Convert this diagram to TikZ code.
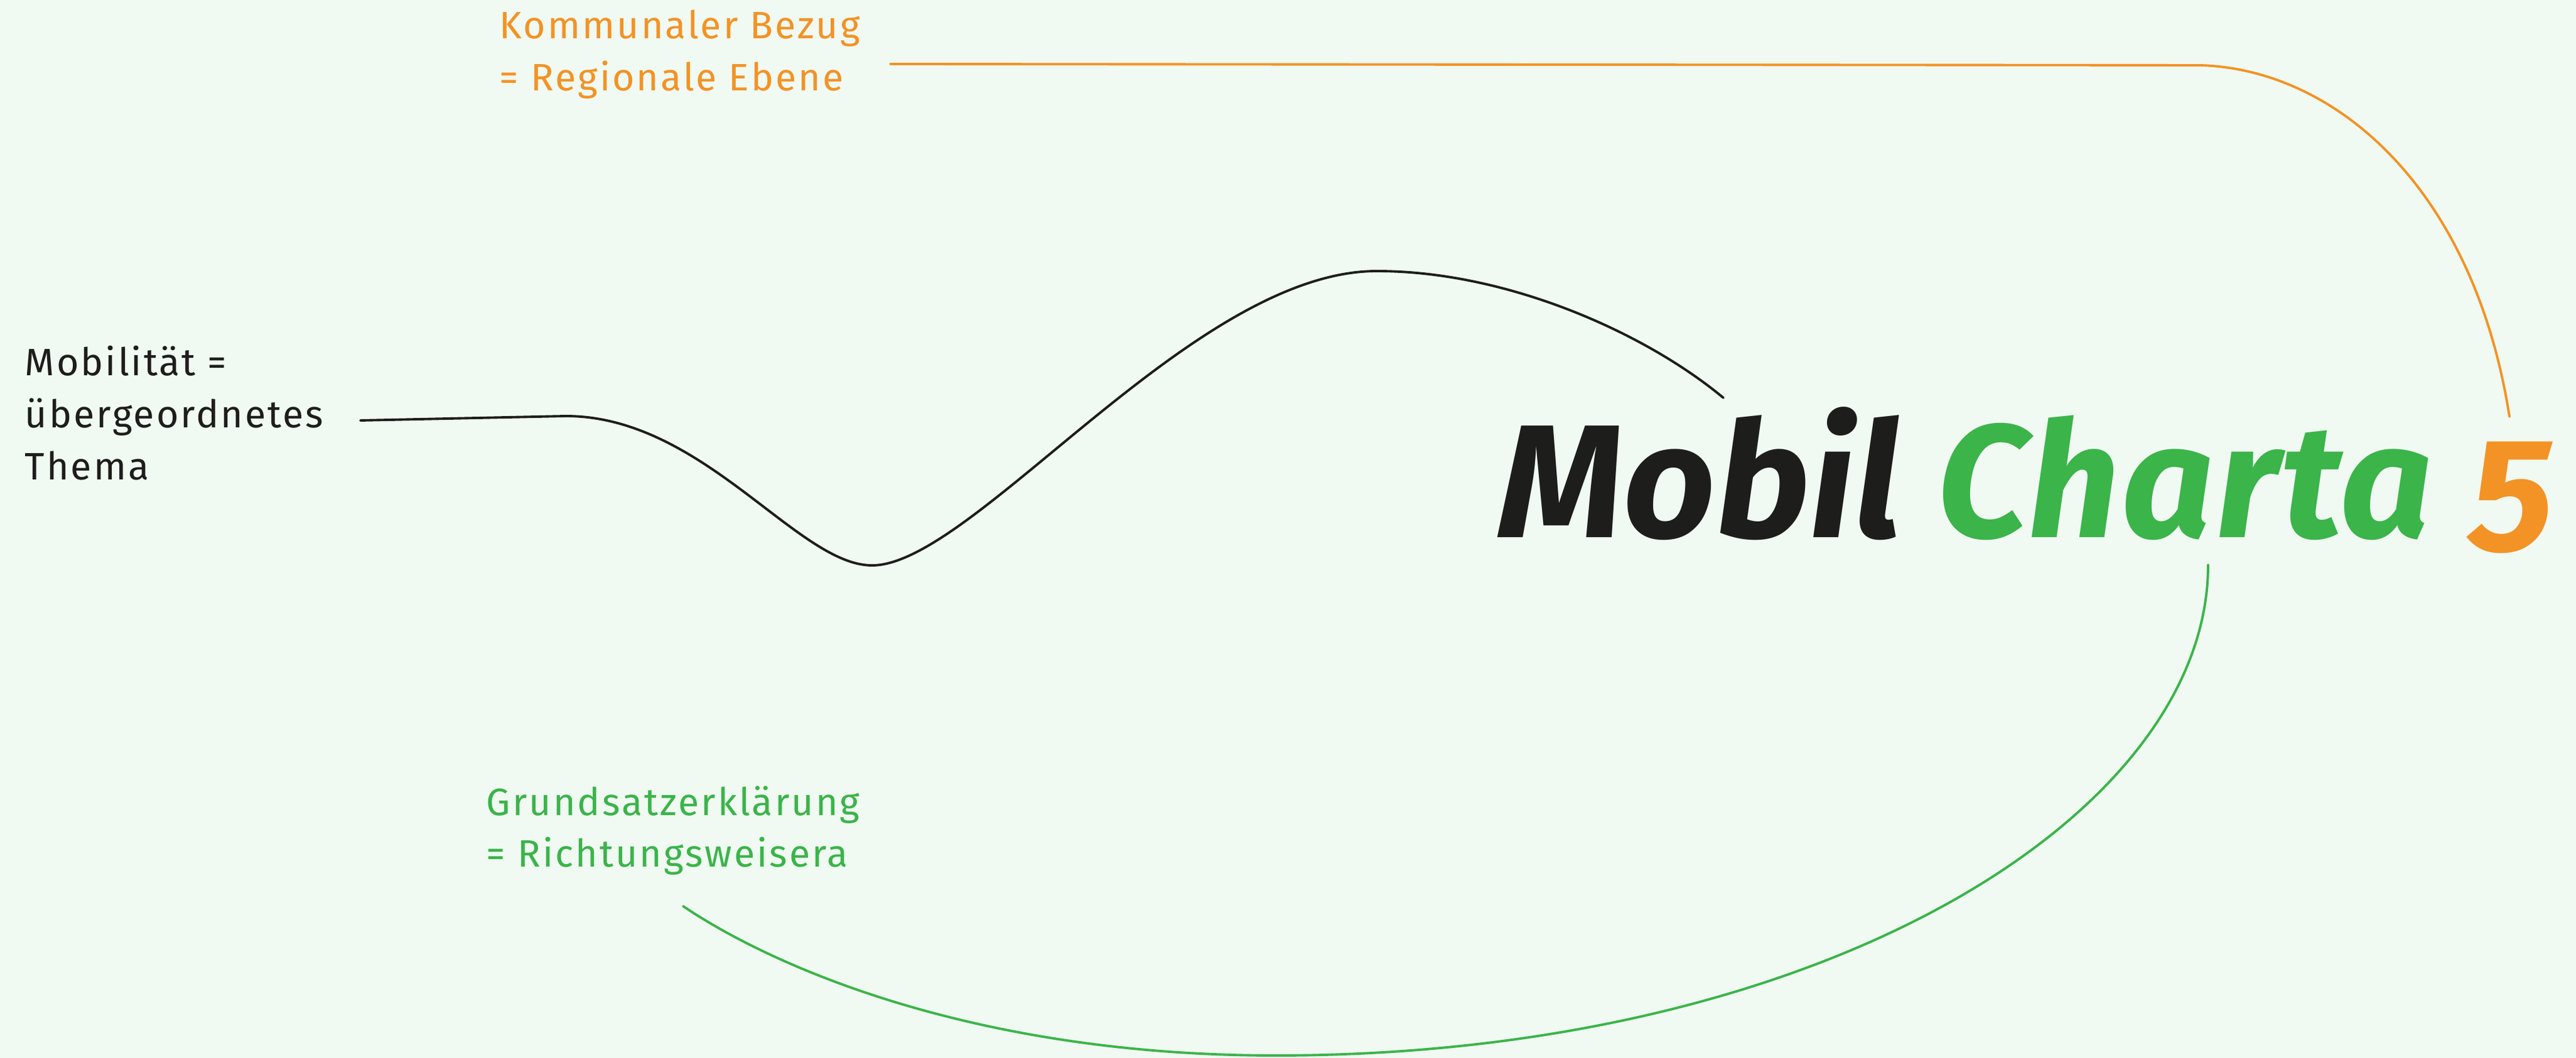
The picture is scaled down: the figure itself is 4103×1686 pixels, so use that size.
\documentclass[tikz,border=0pt]{standalone}
\usepackage{fontspec}
\setmainfont{Fira Sans}
\newfontfamily\notefont[LetterSpace=5]{Fira Sans}
\newfontfamily\chartafont[LetterSpace=1.2]{Fira Sans}
\definecolor{mintbg}{HTML}{F0F9F2}
\definecolor{chartaorange}{HTML}{F39325}
\definecolor{chartagreen}{HTML}{3BB44A}
\definecolor{chartablack}{HTML}{1D1D1B}
\tikzset{
  charta/.style={
	x=0.01cm, y=-0.01cm, % one unit per pixel of the sketch
	lbl/.style={anchor=base west, inner sep=0pt, font=\notefont\fontsize{17.3}{23.6}\selectfont}, % side notes
	link/.style={line width=1.1pt, line cap=round}, % the long strokes
  }
}

\begin{document}
\begin{tikzpicture}[charta]
	  \fill[mintbg] (0,0) rectangle (4103,1686);
	  \useasboundingbox (0,0) rectangle (4103,1686);
	  % notes
	  \node[lbl, text=chartablack] (thema) at (39,599) {\begin{tabular}[t]{@{}l@{}}Mobilität =\\übergeordnetes\\Thema\end{tabular}};
	  \node[lbl, text=chartaorange] (bezug) at (795,62) {\begin{tabular}[t]{@{}l@{}}Kommunaler Bezug\\= Regionale Ebene\end{tabular}};
	  \node[lbl, text=chartagreen] (grund) at (774,1299) {\begin{tabular}[t]{@{}l@{}}Grundsatzerklärung\\= Richtungsweisera\end{tabular}};
	  \node[anchor=base west, inner sep=0pt, font=\fontsize{73}{80}\selectfont\bfseries\itshape] (titel) at (2386,857)
		{\textcolor{chartablack}{Mobil} \textcolor{chartagreen}{\chartafont Charta} \textcolor{chartaorange}{\raisebox{-0.2cm}{5}}};
	  % free ends of the strokes
	  \coordinate (thema-out) at (574,670);
	  \coordinate (titel-top) at (2745,634);
	  \coordinate (bezug-out) at (1418,102);
	  \coordinate (fuenf-top) at (3997,664);
	  \coordinate (charta-bot) at (3517,900);
	  \coordinate (grund-in) at (1088,1444);
	  \draw[link, chartablack] (thema-out) -- (901,663)
		  .. controls (1120,663) and (1270,901) .. (1389,901)
		  .. controls (1550,901) and (1900,432) .. (2193,432)
		  .. controls (2400,432) and (2620,530) .. (titel-top);
	  \draw[link, chartaorange] (bezug-out) -- (3504,104)
		  .. controls (3720,110) and (3940,300) .. (fuenf-top);
	  \draw[link, chartagreen] (charta-bot)
		  .. controls (3517,1300) and (2900,1682) .. (2032,1682)
		  .. controls (1550,1682) and (1230,1540) .. (grund-in);
\end{tikzpicture}
\end{document}
